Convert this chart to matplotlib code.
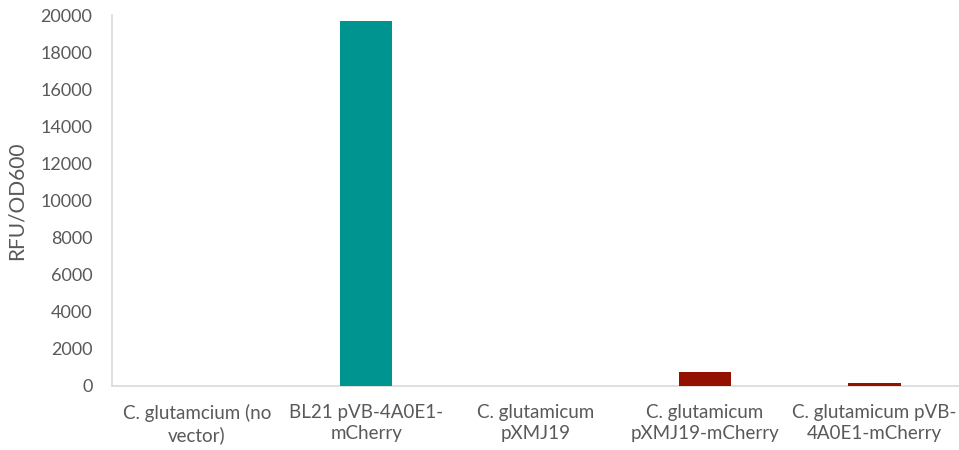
import matplotlib.pyplot as plt
import numpy as np

strains = ['C. glutamcium (no\nvector)', 'BL21 pVB-4A0E1-\nmCherry', 'C. glutamicum\npXMJ19',
           'C. glutamicum\npXMJ19-mCherry', 'C. glutamicum pVB-\n4A0E1-mCherry']
rfu_od600 = [0, 19700, 0, 750, 180]
bar_colors = ['#009490', '#009490', '#941100', '#941100', '#941100']

plt.rcParams['font.family'] = ['Lato', 'DejaVu Sans']
grey = '#595959'

fig = plt.figure(figsize=(9.59, 4.5), dpi=100)
ax = fig.add_axes([112 / 959, 64 / 450, 847 / 959, 371 / 450])

x = np.arange(len(strains))
ax.bar(x, rfu_od600, width=0.31, color=bar_colors, zorder=3)

ax.set_xlim(-0.5, len(strains) - 0.5)
ax.set_ylim(0, 20000)
ax.set_yticks(np.arange(0, 20001, 2000))
ax.set_xticks(x)
ax.set_xticklabels(strains, fontsize=13.5, color=grey, linespacing=1.3)
ax.tick_params(axis='y', length=0, labelsize=13, labelcolor=grey, pad=14)
ax.tick_params(axis='x', length=0, pad=13)
ax.set_ylabel('RFU/OD600', fontsize=15, color=grey, labelpad=10)

for side in ['top', 'right']:
    ax.spines[side].set_visible(False)
for side in ['left', 'bottom']:
    ax.spines[side].set_color('#D9D9D9')
    ax.spines[side].set_linewidth(1.2)

fig.savefig('out.png', dpi=100)
